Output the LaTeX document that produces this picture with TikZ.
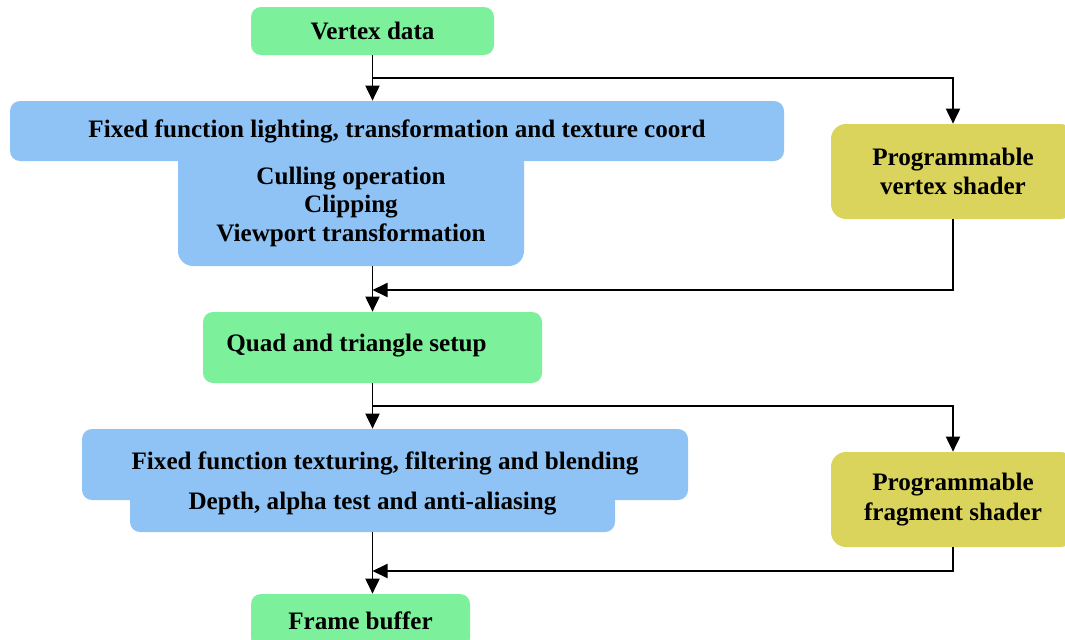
\documentclass[tikz,border=0pt]{standalone}
\usepackage{fontspec}
\setmainfont{Liberation Serif}
\usetikzlibrary{arrows.meta}

\definecolor{stagegreen}{RGB}{125,240,155}
\definecolor{stageblue}{RGB}{143,195,245}
\definecolor{stageyellow}{RGB}{219,212,92}
\newcommand{\px}{0.02cm}

\tikzset{
  stage/.style={rounded corners=0.2cm, inner sep=0pt, align=center,
    font=\fontsize{14.3}{16.7}\selectfont\bfseries},
  greenstage/.style={stage, fill=stagegreen},
  bluestage/.style={stage, fill=stageblue},
  shaderstage/.style={stage, fill=stageyellow, rounded corners=0.3cm,
    minimum width=244*\px, minimum height=95*\px},
  flow/.style={-{Triangle[width=0.28cm,length=0.3cm]}, line width=1.1pt},
}

\begin{document}
\begin{tikzpicture}[x=\px, y=-\px]
    \useasboundingbox (0,0) rectangle (1065,639);

    % Draw fixed pipeline stages
    \node[greenstage, minimum width=243*\px, minimum height=48*\px] (vdata) at (372.5,31) {Vertex data};
    \node[bluestage, minimum width=774*\px, minimum height=60*\px] (light) at (397,131)
      {Fixed function lighting, transformation and texture coord};
    \node[bluestage, rounded corners=0.3cm, minimum width=346*\px, minimum height=118*\px] (cull) at (351,207)
      {\raisebox{-0.04cm}{\shortstack{Culling operation\\Clipping\\Viewport transformation}}};
    \node[greenstage, minimum width=339*\px, minimum height=71*\px] (quad) at (372.5,347.5)
      {\raisebox{0.18cm}{Quad and triangle setup}\hspace{0.64cm}};
    \node[bluestage, minimum width=606*\px, minimum height=71*\px] (texture) at (385,464.5)
      {\raisebox{0.16cm}{Fixed function texturing, filtering and blending}};
    \node[bluestage, minimum width=485*\px, minimum height=56*\px] (depth) at (372.5,504)
      {\raisebox{-0.06cm}{Depth, alpha test and anti-aliasing}};
    \node[greenstage, minimum width=219*\px, minimum height=54*\px] (fbuffer) at (360.5,621) {Frame buffer};

    % Draw programmable stages
    \node[shaderstage] (vshader) at (953,171.5) {Programmable\\vertex shader};
    \node[shaderstage] (fshader) at (953,499.5) {Programmable\\fragment shader};

    % Branch and join points
    \coordinate (vsplit) at (372.5,78);
    \coordinate (vjoin) at (372.5,290);
    \coordinate (fsplit) at (372.5,406);
    \coordinate (fjoin) at (372.5,571);

    % Draw connecting arrows
    \draw[flow] (vdata.south) -- (vdata.south |- light.north);
    \draw[flow] (vsplit) -| (vshader.north);
    \draw[flow] (quad.north |- cull.south) -- (quad.north);
    \draw[flow] (vshader.south) |- (vjoin);
    \draw[flow] (quad.south) -- (quad.south |- texture.north);
    \draw[flow] (fsplit) -| (fshader.north);
    \draw[flow] (depth.south) -- (depth.south |- fbuffer.north);
    \draw[flow] (fshader.south) |- (fjoin);

\end{tikzpicture}
\end{document}
